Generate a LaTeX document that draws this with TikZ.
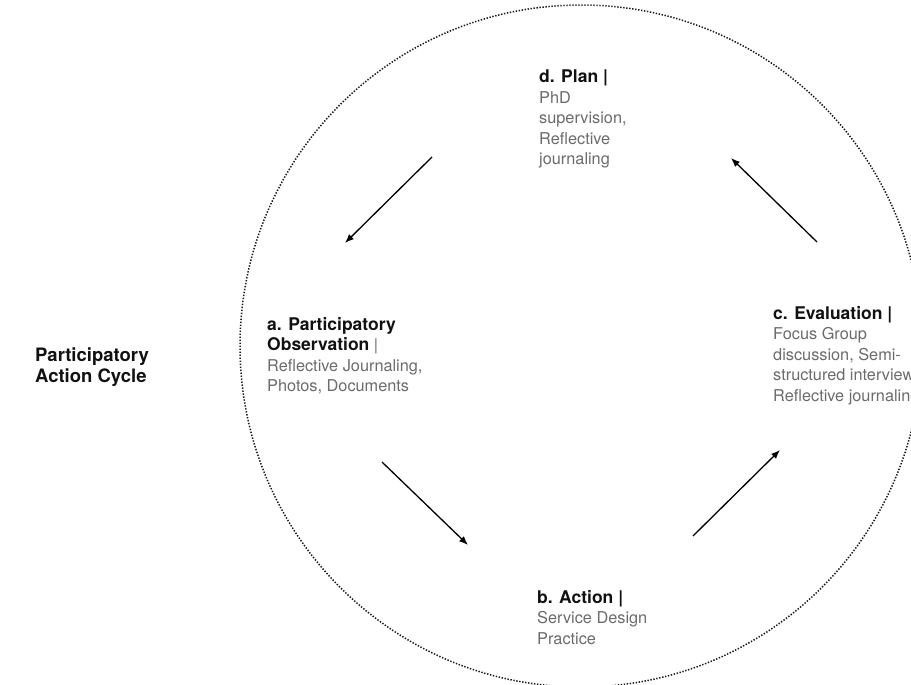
\documentclass[tikz,border=0pt]{standalone}
\usepackage{fontspec}
\setmainfont{TeX Gyre Heros}
\usetikzlibrary{arrows.meta}
\definecolor{bodyGray}{HTML}{6B6B6B}
\definecolor{headBlack}{HTML}{111111}
\newcommand{\stagehead}[1]{{\color{headBlack}\fontsize{17.5}{20.5}\selectfont\bfseries #1}}

\begin{document}
\begin{tikzpicture}[x=1pt, y=-1pt,
			cycle/.style={
				draw=black!90, line width=1.5pt, dash pattern=on 1.4pt off 1.6pt
			},
			stage/.style={
				anchor=north west, inner sep=0pt, align=left, text=bodyGray,
				font=\fontsize{16.3}{20.5}\selectfont
			},
			arrow/.style={-{Latex[length=9pt,width=7pt]}, line width=1.3pt, black}
			]
			
			\useasboundingbox (0,0) rectangle (911,685);
			\draw[cycle] (581,346) circle[radius=341pt];
			
			\node[stage, text=headBlack, font=\fontsize{18.5}{20.5}\selectfont\bfseries] (title) at (35,348)
			{Participatory\\Action Cycle};
			
			\node[stage] (plan) at (539,70)
			{\stagehead{d. Plan |}\\PhD\\supervision,\\Reflective\\journaling};
			
			\node[stage] (observe) at (267,317)
			{\stagehead{a. Participatory}\\\stagehead{Observation} |\\Reflective Journaling,\\Photos, Documents};
			
			\node[stage] (act) at (537,590)
			{\stagehead{b. Action |}\\Service Design\\Practice};
			
			\node[stage] (evaluate) at (773,306)
			{\stagehead{c. Evaluation |}\\Focus Group\\discussion, Semi-\\structured interview,\\Reflective journaling};
			
			\coordinate (planOut) at (432,157);
			\coordinate (observeIn) at (345,243);
			\coordinate (observeOut) at (382,462);
			\coordinate (actIn) at (468,545);
			\coordinate (actOut) at (693,536);
			\coordinate (evaluateIn) at (780,450);
			\coordinate (evaluateOut) at (817,242);
			\coordinate (planIn) at (731,158);
			
			\draw[arrow] (planOut) -- (observeIn);
			\draw[arrow] (observeOut) -- (actIn);
			\draw[arrow] (actOut) -- (evaluateIn);
			\draw[arrow] (evaluateOut) -- (planIn);
			
		\end{tikzpicture}
\end{document}
